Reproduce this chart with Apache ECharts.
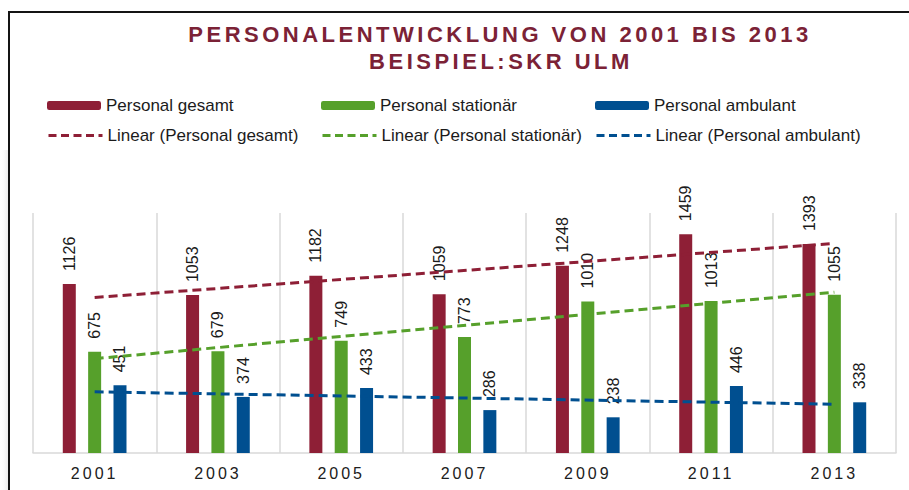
<!DOCTYPE html>
<html>
<head>
  <meta charset="UTF-8">
  <title>Personalentwicklung 2001 - 2013</title>
  <script src="https://cdn.jsdelivr.net/npm/echarts@6/dist/echarts.min.js"></script>
  <style>
    html, body { margin: 0; padding: 0; background: #fff; }
    #main { width: 909px; height: 490px; }
    /* spaced-out caps for title and year labels */
    #main text[fill="#7b2236"] { letter-spacing: 3.5px; }
    #main text[fill="#202020"] { letter-spacing: 3px; }
  </style>
</head>
<body>
<div id="main"></div>
<script>
  const years = ['2001', '2003', '2005', '2007', '2009', '2011', '2013'];
  const personalGesamt = [1126, 1053, 1182, 1059, 1248, 1459, 1393];
  const personalStationaer = [675, 679, 749, 773, 1010, 1013, 1055];
  const personalAmbulant = [451, 374, 433, 286, 238, 446, 338];
  // trend lines: start (2001) and end (2013) only
  const trendGesamt = [1037, null, null, null, null, null, 1397];
  const trendStationaer = [629, null, null, null, null, null, 1072];
  const trendAmbulant = [408, null, null, null, null, null, 325];

  const RED = '#8e1f36', GREEN = '#56a02b', BLUE = '#004f90';
  const FONT = "'Liberation Sans', Arial, sans-serif";

  function barSeries(name, values, color) {
    return {
      name: name,
      type: 'bar',
      data: values,
      barWidth: 13,
      barGap: '95%',
      itemStyle: { color: color },
      label: {
        show: true,
        position: 'top',
        rotate: 90,
        align: 'left',
        verticalAlign: 'middle',
        distance: 13,
        fontSize: 16,
        fontFamily: FONT,
        color: '#1a1a1a'
      },
      z: 2
    };
  }

  function trendSeries(name, values, color) {
    return {
      name: name,
      type: 'line',
      data: values,
      connectNulls: true,
      symbol: 'none',
      silent: true,
      lineStyle: { color: color, width: 3, type: [9, 5] },
      itemStyle: { color: color },
      z: 5
    };
  }

  function legendAt(name, left, top, isLine) {
    const lg = {
      data: [name],
      left: left,
      top: top,
      padding: 0,
      itemWidth: 54,
      itemHeight: 9,
      selectedMode: false,
      textStyle: { fontSize: 17, fontFamily: FONT, color: '#1b1b1b' }
    };
    if (isLine) {
      lg.lineStyle = { type: [8, 4.5], width: 3 };
      // no marker dot in the middle of the dashed icon
      lg.itemStyle = { color: 'transparent', borderWidth: 0, opacity: 0 };
    }
    return lg;
  }

  const chart = echarts.init(document.getElementById('main'), null, { renderer: 'svg' });
  chart.setOption({
    animation: false,
    backgroundColor: '#fff',
    graphic: [
      {
        type: 'rect', left: 0, top: 150, z: -10, silent: true,
        shape: { width: 8, height: 340 },
        style: {
          fill: new echarts.graphic.LinearGradient(0, 0, 1, 0, [
            { offset: 0, color: 'rgba(255,255,255,0)' },
            { offset: 1, color: 'rgba(0,0,0,0.07)' }
          ])
        }
      },
      {
        type: 'rect', z: -5, silent: true,
        shape: { x: 9, y: 12, width: 1000, height: 600 },
        style: { fill: 'none', stroke: '#141414', lineWidth: 2 }
      },
      {
        type: 'text', z: 10, silent: true,
        style: {
          x: 500, y: 34, text: 'PERSONALENTWICKLUNG VON 2001 BIS 2013',
          textAlign: 'center', textVerticalAlign: 'middle',
          font: 'bold 22px ' + FONT, fill: '#7b2236'
        }
      },
      {
        type: 'text', z: 10, silent: true,
        style: {
          x: 501, y: 61, text: 'BEISPIEL:SKR ULM',
          textAlign: 'center', textVerticalAlign: 'middle',
          font: 'bold 22px ' + FONT, fill: '#7b2236'
        }
      }
    ],
    legend: [
      legendAt('Personal gesamt', 47, 97, false),
      legendAt('Personal stationär', 321, 97, false),
      legendAt('Personal ambulant', 595, 97, false),
      legendAt('Linear (Personal gesamt)', 47, 127, true),
      legendAt('Linear (Personal stationär)', 321, 127, true),
      legendAt('Linear (Personal ambulant)', 595, 127, true)
    ],
    grid: { left: 33, right: 13, top: 213, bottom: 37, containLabel: false },
    xAxis: {
      type: 'category',
      data: years,
      axisLine: { lineStyle: { color: '#d9d9d9', width: 1.5 } },
      axisTick: { show: false },
      splitLine: { show: true, interval: 0, lineStyle: { color: '#d9d9d9', width: 1.5 } },
      axisLabel: { fontSize: 16, fontFamily: FONT, color: '#202020', margin: 12 }
    },
    yAxis: {
      type: 'value',
      min: 0,
      max: 1600,
      interval: 400,
      axisLine: { show: false },
      axisTick: { show: false },
      axisLabel: { show: false },
      splitLine: { show: false }
    },
    series: [
      barSeries('Personal gesamt', personalGesamt, RED),
      barSeries('Personal stationär', personalStationaer, GREEN),
      barSeries('Personal ambulant', personalAmbulant, BLUE),
      trendSeries('Linear (Personal gesamt)', trendGesamt, RED),
      trendSeries('Linear (Personal stationär)', trendStationaer, GREEN),
      trendSeries('Linear (Personal ambulant)', trendAmbulant, BLUE)
    ]
  });
</script>
</body>
</html>
